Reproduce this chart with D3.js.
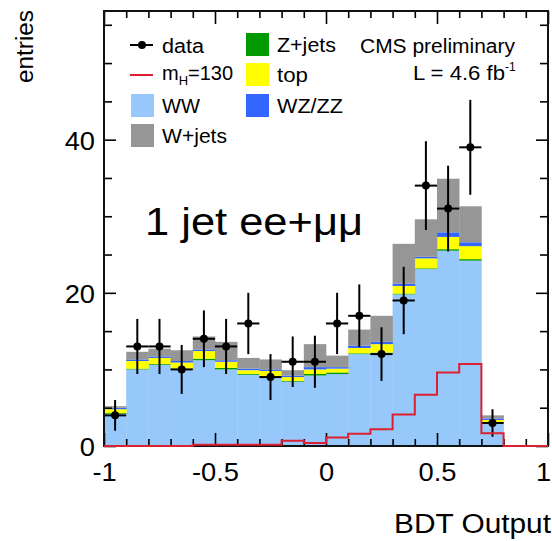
<!DOCTYPE html>
<html><head><meta charset="utf-8">
<script src="https://cdn.jsdelivr.net/npm/d3@7"></script>
<style>
html,body{margin:0;padding:0;background:#fff;}
svg{display:block;}
text{font-family:"Liberation Sans",Arial,sans-serif;fill:#000;}
</style></head>
<body>
<svg id="c" width="552" height="541"></svg>
<script>
// ---- data ----
const binLow = [-1.0,-0.9,-0.8,-0.7,-0.6,-0.5,-0.4,-0.3,-0.2,-0.1,0.0,0.1,0.2,0.3,0.4,0.5,0.6,0.7,0.8,0.9];
const binWidth = 0.1;
const ww    = [4.2,10.0,10.6,10.0,11.2,10.0,9.3,9.0,8.4,9.2,9.4,12.0,12.1,19.8,23.1,25.5,24.2,3.0,0,0];
const zjets = [0.1,0.1,0.1,0.1,0.2,0.2,0.1,0.1,0.1,0.2,0.2,0.1,0.1,0.1,0.1,0.2,0.2,0.1,0,0];
const topq  = [0.5,1.0,0.8,0.8,1.0,0.8,0.5,0.7,0.5,0.6,0.5,0.7,1.1,1.0,1.3,1.6,1.7,0.3,0,0];
const wzzz  = [0.2,0.2,0.2,0.2,0.2,0.2,0.2,0.2,0.2,0.3,0.2,0.3,0.3,0.3,0.2,0.6,0.5,0.2,0,0];
const wjets = [0.2,1.0,1.0,1.4,1.7,2.4,1.4,1.3,0.7,3.0,1.5,2.1,3.4,5.2,4.9,7.0,4.7,0.4,0,0];
const signal= [0,0,0,0,0.15,0.15,0.15,0.15,0.7,0.4,1.1,1.6,2.2,4.1,6.7,9.6,10.7,1.65,0,0];
const dataY = [4,13,13,10,14,13,16,9,11,11,16,17,12,19,34,31,39,3,0,0];
const dataErr=[2.0,3.6,3.6,3.2,3.7,3.6,4.0,3.0,3.3,3.4,4.0,4.1,3.5,4.4,5.8,5.6,6.2,1.8,0,0];
const xMajorTicks = [-1,-0.5,0,0.5,1];
const xTickLabels = ["-1","-0.5","0","0.5","1"];
const xMinorTicks = [-0.9,-0.8,-0.7,-0.6,-0.4,-0.3,-0.2,-0.1,0.1,0.2,0.3,0.4,0.6,0.7,0.8,0.9];
const yMajorTicks = [0,20,40];
const yMinorTicks = [5,10,15,25,30,35,45,50,55];
const layerKeys  = ["WW","Z+jets","top","WZ/ZZ","W+jets"];
const layerColors= ["#96c8fc","#009a00","#ffff00","#3366ff","#969696"];

// ---- layout ----
const svg = d3.select("#c");
const L=104, R=548, T=11, B=446;
const x = d3.scaleLinear().domain([-1,1]).range([L,R]);
const y = d3.scaleLinear().domain([0,56.8]).range([B,T]);

const table = binLow.map((b,i)=>({lo:b,"WW":ww[i],"Z+jets":zjets[i],"top":topq[i],"WZ/ZZ":wzzz[i],"W+jets":wjets[i]}));
const stack = d3.stack().keys(layerKeys)(table);

const g = svg.append("g");
stack.forEach((layer,li)=>{
  g.append("g").selectAll("rect").data(layer.filter(d=>d[1]-d[0]>0)).join("rect")
    .attr("x",d=>x(d.data.lo)).attr("width",d=>x(d.data.lo+binWidth)-x(d.data.lo)+0.3)
    .attr("y",d=>y(d[1])).attr("height",d=>y(d[0])-y(d[1]))
    .attr("fill",layerColors[li]);
});

// data points
const pts = binLow.map((b,i)=>({lo:b,v:dataY[i],e:dataErr[i]})).filter(d=>d.v>0);
const dg = g.append("g").attr("stroke","#000").attr("stroke-width",2);
dg.selectAll(".v").data(pts).join("line")
  .attr("x1",d=>x(d.lo+binWidth/2)).attr("x2",d=>x(d.lo+binWidth/2))
  .attr("y1",d=>y(d.v-d.e)).attr("y2",d=>y(d.v+d.e));
dg.selectAll(".h").data(pts).join("line")
  .attr("x1",d=>x(d.lo)).attr("x2",d=>x(d.lo+binWidth))
  .attr("y1",d=>y(d.v)).attr("y2",d=>y(d.v));
g.append("g").selectAll("circle").data(pts).join("circle")
  .attr("cx",d=>x(d.lo+binWidth/2)).attr("cy",d=>y(d.v)).attr("r",4).attr("fill","#000");

// axes (ticks inside)
function styleAx(s){ s.select(".domain").remove(); s.selectAll("line").attr("stroke","#000").attr("stroke-width",1.6); }
svg.append("g").attr("transform",`translate(0,${B})`)
  .call(d3.axisBottom(x).tickValues(xMajorTicks).tickSize(-13).tickPadding(17).tickFormat((d,i)=>xTickLabels[i]))
  .call(styleAx).call(s=>s.selectAll("text").attr("class","tl"));
svg.append("g").attr("transform",`translate(0,${B})`)
  .call(d3.axisBottom(x).tickValues(xMinorTicks).tickSize(-7).tickFormat("")).call(styleAx);
svg.append("g").attr("transform",`translate(0,${T})`)
  .call(d3.axisTop(x).tickValues(xMajorTicks).tickSize(-13).tickFormat("")).call(styleAx);
svg.append("g").attr("transform",`translate(0,${T})`)
  .call(d3.axisTop(x).tickValues(xMinorTicks).tickSize(-7).tickFormat("")).call(styleAx);
svg.append("g").attr("transform",`translate(${L},0)`)
  .call(d3.axisLeft(y).tickValues(yMajorTicks).tickSize(-12).tickPadding(9))
  .call(styleAx).call(s=>s.selectAll("text").attr("class","tl").attr("dy","0.38em"));
svg.append("g").attr("transform",`translate(${L},0)`)
  .call(d3.axisLeft(y).tickValues(yMinorTicks).tickSize(-8).tickFormat("")).call(styleAx);
svg.append("g").attr("transform",`translate(${R},0)`)
  .call(d3.axisRight(y).tickValues(yMajorTicks).tickSize(-12).tickFormat("")).call(styleAx);
svg.append("g").attr("transform",`translate(${R},0)`)
  .call(d3.axisRight(y).tickValues(yMinorTicks).tickSize(-8).tickFormat("")).call(styleAx);
svg.selectAll("text.tl").attr("font-size",26).attr("font-family","Liberation Sans, Arial, sans-serif").attr("fill","#000");

// frame
svg.append("rect").attr("x",L).attr("y",T).attr("width",R-L).attr("height",B-T)
  .attr("fill","none").attr("stroke","#111").attr("stroke-width",2);

// signal step line (drawn over the frame, as in the reference)
const sigPts = binLow.map((b,i)=>[b,signal[i]]);
sigPts.push([binLow[binLow.length-1]+binWidth, signal[signal.length-1]]);
svg.append("path").attr("d",d3.line().x(d=>x(d[0])).y(d=>y(d[1])).curve(d3.curveStepAfter)(sigPts))
  .attr("fill","none").attr("stroke","#dd2030").attr("stroke-width",2);

// axis titles
svg.append("text").attr("x",551).attr("y",533).attr("text-anchor","end").attr("font-size",27)
  .attr("textLength",157).attr("lengthAdjust","spacingAndGlyphs").text("BDT Output");
svg.append("text").attr("transform","translate(33,10) rotate(-90)").attr("text-anchor","end").attr("font-size",23)
  .attr("textLength",73).attr("lengthAdjust","spacingAndGlyphs").text("entries");

// legend
const lg = svg.append("g");
const fs = 20;
lg.append("line").attr("x1",130).attr("x2",153).attr("y1",45).attr("y2",45).attr("stroke","#000").attr("stroke-width",2);
lg.append("circle").attr("cx",142).attr("cy",45).attr("r",4).attr("fill","#000");
lg.append("text").attr("x",162).attr("y",53).attr("font-size",fs).attr("textLength",42).attr("lengthAdjust","spacingAndGlyphs").text("data");
lg.append("line").attr("x1",130).attr("x2",153).attr("y1",75).attr("y2",75).attr("stroke","#dd2030").attr("stroke-width",2);
const mt = lg.append("text").attr("x",162).attr("y",80).attr("font-size",fs);
mt.append("tspan").text("m");
mt.append("tspan").attr("font-size",13).attr("dy",5).text("H");
mt.append("tspan").attr("dy",-5).text("=130");
const boxes = [
  {x:131,y:94,c:layerColors[0],t:"WW",tl:38},
  {x:131,y:124,c:layerColors[4],t:"W+jets",tl:65},
  {x:246,y:33,c:layerColors[1],t:"Z+jets",tl:59},
  {x:246,y:63,c:layerColors[2],t:"top",tl:31},
  {x:246,y:94,c:layerColors[3],t:"WZ/ZZ",tl:66}
];
boxes.forEach(b=>{
  lg.append("rect").attr("x",b.x).attr("y",b.y).attr("width",23).attr("height",23).attr("fill",b.c);
  lg.append("text").attr("x",b.x+31).attr("y",b.y+19).attr("font-size",fs)
    .attr("textLength",b.tl).attr("lengthAdjust","spacingAndGlyphs").text(b.t);
});
lg.append("text").attr("x",360).attr("y",53).attr("font-size",fs).attr("textLength",155).attr("lengthAdjust","spacingAndGlyphs").text("CMS preliminary");
lg.append("text").attr("x",413).attr("y",80).attr("font-size",fs).attr("textLength",92).attr("lengthAdjust","spacingAndGlyphs").text("L = 4.6 fb");
lg.append("text").attr("x",505).attr("y",71).attr("font-size",12).text("-1");

// annotation
svg.append("text").attr("x",145).attr("y",235).attr("font-family","Open Sans, Noto Sans, sans-serif").attr("font-size",38)
  .attr("textLength",218).attr("lengthAdjust","spacingAndGlyphs").text("1 jet ee+μμ");

// slight horizontal stretch of tick labels; keep the last x label inside the page
svg.selectAll("text.tl").each(function(){ const w=this.getComputedTextLength(); d3.select(this).attr("textLength",w*1.05).attr("lengthAdjust","spacingAndGlyphs"); });
svg.selectAll("text.tl").filter(function(){ return d3.select(this).text()==="1"; }).attr("x",-5);
</script>
</body></html>
